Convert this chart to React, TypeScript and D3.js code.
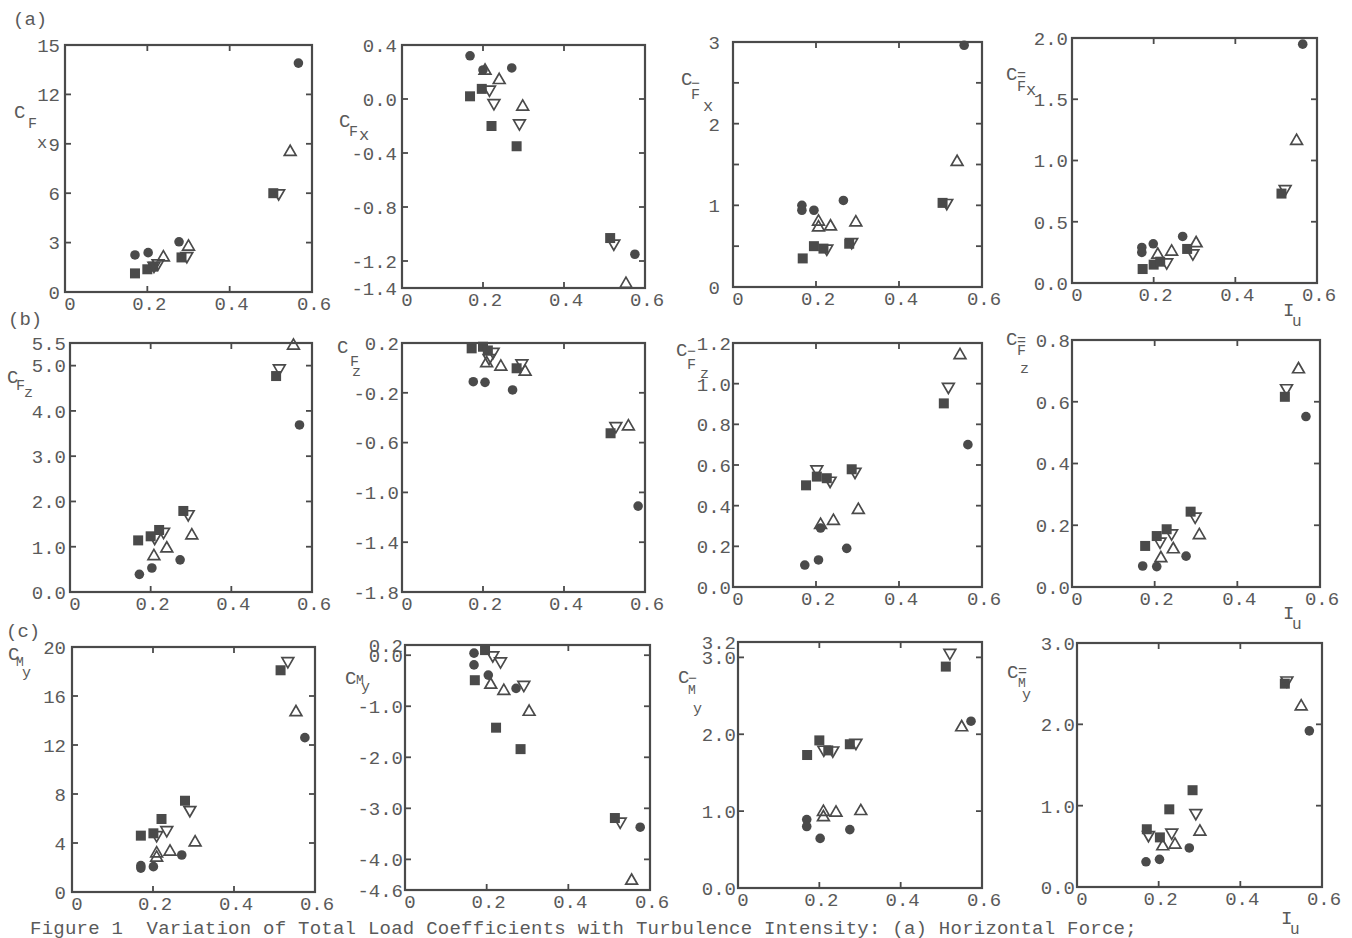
import React from 'react';
import * as d3 from 'd3';

type Pt = [string, number, number];
// series codes: c = filled circle, u = open triangle up, s = filled square, d = open triangle down

const ptsA1: Pt[] = [
  ['c', 0.170, 2.25], ['c', 0.202, 2.39], ['c', 0.277, 3.05], ['c', 0.567, 13.9],
  ['s', 0.170, 1.13], ['s', 0.200, 1.38], ['s', 0.214, 1.54], ['s', 0.283, 2.1], ['s', 0.506, 6.0],
  ['u', 0.239, 2.1], ['u', 0.300, 2.75], ['u', 0.547, 8.5],
  ['d', 0.216, 1.6], ['d', 0.226, 1.75], ['d', 0.296, 2.19], ['d', 0.519, 6.0],
];
const ptsA2: Pt[] = [
  ['c', 0.168, 0.32], ['c', 0.200, 0.215], ['c', 0.271, 0.23], ['c', 0.575, -1.15],
  ['s', 0.168, 0.02], ['s', 0.197, 0.075], ['s', 0.221, -0.2], ['s', 0.283, -0.35], ['s', 0.514, -1.03],
  ['u', 0.205, 0.21], ['u', 0.240, 0.14], ['u', 0.298, -0.057], ['u', 0.553, -1.37],
  ['d', 0.216, 0.07], ['d', 0.227, -0.03], ['d', 0.290, -0.18], ['d', 0.523, -1.07],
];
const ptsA3: Pt[] = [
  ['c', 0.166, 1.0], ['c', 0.166, 0.94], ['c', 0.195, 0.94], ['c', 0.266, 1.06], ['c', 0.557, 2.96],
  ['s', 0.168, 0.35], ['s', 0.195, 0.50], ['s', 0.218, 0.47], ['s', 0.280, 0.53], ['s', 0.505, 1.03],
  ['u', 0.206, 0.80], ['u', 0.206, 0.73], ['u', 0.235, 0.74], ['u', 0.296, 0.79], ['u', 0.540, 1.53],
  ['d', 0.226, 0.47], ['d', 0.286, 0.55], ['d', 0.515, 1.03],
];
const ptsA4: Pt[] = [
  ['c', 0.171, 0.29], ['c', 0.171, 0.25], ['c', 0.199, 0.32], ['c', 0.271, 0.38], ['c', 0.565, 1.95],
  ['s', 0.173, 0.114], ['s', 0.200, 0.15], ['s', 0.216, 0.174], ['s', 0.282, 0.278], ['s', 0.513, 0.73],
  ['u', 0.210, 0.23], ['u', 0.244, 0.256], ['u', 0.304, 0.324], ['u', 0.550, 1.16],
  ['d', 0.232, 0.169], ['d', 0.296, 0.242], ['d', 0.522, 0.767],
];
const ptsB1: Pt[] = [
  ['c', 0.172, 0.39], ['c', 0.203, 0.53], ['c', 0.273, 0.71], ['c', 0.569, 3.69],
  ['s', 0.169, 1.14], ['s', 0.200, 1.23], ['s', 0.221, 1.37], ['s', 0.281, 1.79], ['s', 0.511, 4.77],
  ['u', 0.208, 0.79], ['u', 0.240, 0.96], ['u', 0.302, 1.25], ['u', 0.554, 5.44],
  ['d', 0.210, 1.2], ['d', 0.232, 1.33], ['d', 0.293, 1.72], ['d', 0.519, 4.94],
];
const ptsB2: Pt[] = [
  ['c', 0.176, -0.111], ['c', 0.205, -0.116], ['c', 0.273, -0.177], ['c', 0.583, -1.11],
  ['s', 0.172, 0.157], ['s', 0.200, 0.17], ['s', 0.212, 0.14], ['s', 0.283, -0.003], ['s', 0.515, -0.525],
  ['u', 0.209, 0.037], ['u', 0.244, 0.01], ['u', 0.304, -0.03], ['u', 0.559, -0.47],
  ['d', 0.215, 0.08], ['d', 0.225, 0.13], ['d', 0.296, 0.037], ['d', 0.528, -0.467],
];
const ptsB3: Pt[] = [
  ['c', 0.173, 0.108], ['c', 0.206, 0.133], ['c', 0.274, 0.19], ['c', 0.566, 0.70], ['c', 0.211, 0.29],
  ['s', 0.176, 0.50], ['s', 0.202, 0.543], ['s', 0.226, 0.535], ['s', 0.286, 0.579], ['s', 0.508, 0.903],
  ['u', 0.211, 0.305], ['u', 0.242, 0.325], ['u', 0.302, 0.379], ['u', 0.547, 1.14],
  ['d', 0.202, 0.579], ['d', 0.234, 0.523], ['d', 0.294, 0.567], ['d', 0.519, 0.985],
];
const ptsB4: Pt[] = [
  ['c', 0.171, 0.068], ['c', 0.205, 0.066], ['c', 0.276, 0.10], ['c', 0.566, 0.552],
  ['s', 0.177, 0.133], ['s', 0.205, 0.165], ['s', 0.229, 0.187], ['s', 0.287, 0.244], ['s', 0.515, 0.616],
  ['u', 0.215, 0.093], ['u', 0.245, 0.122], ['u', 0.308, 0.168], ['u', 0.548, 0.705],
  ['d', 0.213, 0.147], ['d', 0.241, 0.174], ['d', 0.298, 0.228], ['d', 0.519, 0.644],
];
const ptsC1: Pt[] = [
  ['c', 0.170, 2.15], ['c', 0.170, 1.95], ['c', 0.201, 2.07], ['c', 0.271, 3.02], ['c', 0.575, 12.6],
  ['s', 0.170, 4.6], ['s', 0.201, 4.79], ['s', 0.221, 5.96], ['s', 0.279, 7.45], ['s', 0.515, 18.1],
  ['u', 0.209, 3.15], ['u', 0.209, 2.8], ['u', 0.242, 3.29], ['u', 0.304, 4.05], ['u', 0.553, 14.67],
  ['d', 0.209, 4.65], ['d', 0.234, 5.06], ['d', 0.291, 6.7], ['d', 0.533, 18.85],
];
const ptsC2: Pt[] = [
  ['c', 0.169, 0.04], ['c', 0.169, -0.19], ['c', 0.204, -0.39], ['c', 0.272, -0.65], ['c', 0.576, -3.37],
  ['s', 0.171, -0.49], ['s', 0.196, 0.1], ['s', 0.223, -1.42], ['s', 0.283, -1.84], ['s', 0.514, -3.19],
  ['u', 0.210, -0.58], ['u', 0.242, -0.70], ['u', 0.304, -1.11], ['u', 0.555, -4.42],
  ['d', 0.215, 0.0], ['d', 0.234, -0.12], ['d', 0.291, -0.58], ['d', 0.527, -3.26],
];
const ptsC3: Pt[] = [
  ['c', 0.169, 0.89], ['c', 0.169, 0.80], ['c', 0.202, 0.645], ['c', 0.275, 0.76], ['c', 0.573, 2.17],
  ['s', 0.170, 1.73], ['s', 0.200, 1.92], ['s', 0.222, 1.79], ['s', 0.275, 1.87], ['s', 0.511, 2.88],
  ['u', 0.210, 0.99], ['u', 0.210, 0.92], ['u', 0.241, 0.98], ['u', 0.302, 1.0], ['u', 0.550, 2.09],
  ['d', 0.211, 1.8], ['d', 0.233, 1.79], ['d', 0.290, 1.89], ['d', 0.521, 3.06],
];
const ptsC4: Pt[] = [
  ['c', 0.169, 0.31], ['c', 0.202, 0.34], ['c', 0.275, 0.48], ['c', 0.569, 1.92],
  ['s', 0.171, 0.71], ['s', 0.203, 0.61], ['s', 0.226, 0.955], ['s', 0.283, 1.19], ['s', 0.509, 2.5],
  ['u', 0.210, 0.50], ['u', 0.240, 0.52], ['u', 0.301, 0.68], ['u', 0.549, 2.22],
  ['d', 0.175, 0.64], ['d', 0.232, 0.67], ['d', 0.291, 0.91], ['d', 0.514, 2.54],
];

// x axis (shared)
const xTicks = [0.2, 0.4];
const xLabels: [number, string][] = [[0, '0'], [0.2, '0.2'], [0.4, '0.4'], [0.6, '0.6']];

// y axes
const yTicksA1 = [3, 6, 9, 12];
const yLabelsA1: [number, string][] = [[0, '0'], [3, '3'], [6, '6'], [9, '9'], [12, '12'], [15, '15']];
const yTicksA2 = [0.0, -0.4, -0.8, -1.2];
const yLabelsA2: [number, string][] = [[0.4, '0.4'], [0.0, '0.0'], [-0.4, '-0.4'], [-0.8, '-0.8'], [-1.2, '-1.2'], [-1.4, '-1.4']];
const yTicksA3 = [0.5, 1, 1.5, 2, 2.5];
const yLabelsA3: [number, string][] = [[0, '0'], [1, '1'], [2, '2'], [3, '3']];
const yTicksA4 = [0.5, 1.0, 1.5];
const yLabelsA4: [number, string][] = [[0, '0.0'], [0.5, '0.5'], [1.0, '1.0'], [1.5, '1.5'], [2.0, '2.0']];
const yTicksB1 = [1, 2, 3, 4, 5];
const yLabelsB1: [number, string][] = [[0, '0.0'], [1, '1.0'], [2, '2.0'], [3, '3.0'], [4, '4.0'], [5, '5.0'], [5.5, '5.5']];
const yTicksB2 = [-0.2, -0.6, -1.0, -1.4];
const yLabelsB2: [number, string][] = [[0.2, '0.2'], [-0.2, '-0.2'], [-0.6, '-0.6'], [-1.0, '-1.0'], [-1.4, '-1.4'], [-1.8, '-1.8']];
const yTicksB3 = [0.2, 0.4, 0.6, 0.8, 1.0];
const yLabelsB3: [number, string][] = [[0, '0.0'], [0.2, '0.2'], [0.4, '0.4'], [0.6, '0.6'], [0.8, '0.8'], [1.0, '1.0'], [1.2, '1.2']];
const yTicksB4 = [0.2, 0.4, 0.6];
const yLabelsB4: [number, string][] = [[0, '0.0'], [0.2, '0.2'], [0.4, '0.4'], [0.6, '0.6'], [0.8, '0.8']];
const yTicksC1 = [4, 8, 12, 16];
const yLabelsC1: [number, string][] = [[0, '0'], [4, '4'], [8, '8'], [12, '12'], [16, '16'], [20, '20']];
const yTicksC2 = [0, -1, -2, -3, -4];
const yLabelsC2: [number, string][] = [[0.2, '0.2'], [0, '0.0'], [-1, '-1.0'], [-2, '-2.0'], [-3, '-3.0'], [-4, '-4.0'], [-4.6, '-4.6']];
const yTicksC3 = [1, 2, 3];
const yLabelsC3: [number, string][] = [[0, '0.0'], [1, '1.0'], [2, '2.0'], [3, '3.0'], [3.2, '3.2']];
const yTicksC4 = [1, 2];
const yLabelsC4: [number, string][] = [[0, '0.0'], [1, '1.0'], [2, '2.0'], [3, '3.0']];

const rowLabels: [string, number, number][] = [['(a)', 13, 25], ['(b)', 8, 325], ['(c)', 6, 637]];
const caption = 'Figure 1\u00a0 Variation of Total Load Coefficients with Turbulence Intensity: (a) Horizontal Force;';

// axis title pieces: [text, x, y, fontSize]
type Piece = [string, number, number, number];
const titleA1: Piece[] = [['C', 14, 118, 19], ['F', 28, 128, 15], ['x', 37, 148, 17]];
const titleA2: Piece[] = [['C', 339, 127, 19], ['F', 349, 136, 15], ['x', 359, 140, 17]];
const titleA3: Piece[] = [['C', 681, 85, 19], ['\u2212', 691, 88, 15], ['F', 691, 99, 15], ['x', 703, 111, 17]];
const titleA4: Piece[] = [['C', 1006, 80, 19], ['=', 1017, 80, 15], ['F', 1017, 91, 15], ['x', 1026, 95, 17]];
const titleB1: Piece[] = [['C', 7, 383, 19], ['F', 16, 390, 15], ['z', 24, 397, 15]];
const titleB2: Piece[] = [['C', 337, 353, 19], ['F', 350, 366, 15], ['z', 352, 376, 15]];
const titleB3: Piece[] = [['C', 676, 356, 19], ['\u2212', 687, 356, 15], ['F', 687, 369, 15], ['z', 700, 378, 15]];
const titleB4: Piece[] = [['C', 1006, 345, 19], ['=', 1017, 345, 15], ['F', 1017, 355, 15], ['z', 1020, 373, 15]];
const titleC1: Piece[] = [['C', 8, 660, 19], ['M', 16, 666, 13], ['y', 22, 677, 15]];
const titleC2: Piece[] = [['C', 345, 684, 19], ['M', 356, 684, 13], ['y', 361, 691, 15]];
const titleC3: Piece[] = [['C', 678, 683, 19], ['\u2212', 688, 683, 15], ['M', 688, 694, 13], ['y', 693, 713, 15]];
const titleC4: Piece[] = [['C', 1007, 678, 19], ['=', 1018, 676, 15], ['M', 1018, 687, 13], ['y', 1022, 699, 15]];
const iuLabels: [number, number][] = [[1283, 316], [1283, 619], [1281, 924]];

const INK = '#4a4a4a';
const TXT = '#5a5a5a';
const FONT = '"Liberation Mono", "DejaVu Sans Mono", monospace';

interface PanelCfg {
  l: number; r: number; t: number; b: number;
  yd: [number, number];
  pts: Pt[];
  yTicks: number[];
  yLabels: [number, string][];
  gap: number;
  title: Piece[];
}

const panels: PanelCfg[] = [
  { l: 65, r: 312, t: 45, b: 292, yd: [0, 15], pts: ptsA1, yTicks: yTicksA1, yLabels: yLabelsA1, gap: 5, title: titleA1 },
  { l: 402, r: 645, t: 45, b: 288, yd: [-1.4, 0.4], pts: ptsA2, yTicks: yTicksA2, yLabels: yLabelsA2, gap: 5, title: titleA2 },
  { l: 733, r: 982, t: 42, b: 287, yd: [0, 3], pts: ptsA3, yTicks: yTicksA3, yLabels: yLabelsA3, gap: 13, title: titleA3 },
  { l: 1072, r: 1317, t: 38, b: 283, yd: [0, 2], pts: ptsA4, yTicks: yTicksA4, yLabels: yLabelsA4, gap: 4, title: titleA4 },
  { l: 70, r: 312, t: 343, b: 592, yd: [0, 5.5], pts: ptsB1, yTicks: yTicksB1, yLabels: yLabelsB1, gap: 4, title: titleB1 },
  { l: 402, r: 645, t: 343, b: 592, yd: [-1.8, 0.2], pts: ptsB2, yTicks: yTicksB2, yLabels: yLabelsB2, gap: 3, title: titleB2 },
  { l: 733, r: 982, t: 343, b: 587, yd: [0, 1.2], pts: ptsB3, yTicks: yTicksB3, yLabels: yLabelsB3, gap: 2, title: titleB3 },
  { l: 1072, r: 1320, t: 340, b: 587, yd: [0, 0.8], pts: ptsB4, yTicks: yTicksB4, yLabels: yLabelsB4, gap: 2, title: titleB4 },
  { l: 72, r: 315, t: 647, b: 892, yd: [0, 20], pts: ptsC1, yTicks: yTicksC1, yLabels: yLabelsC1, gap: 6, title: titleC1 },
  { l: 405, r: 650, t: 645, b: 890, yd: [-4.6, 0.2], pts: ptsC2, yTicks: yTicksC2, yLabels: yLabelsC2, gap: 2, title: titleC2 },
  { l: 738, r: 982, t: 642, b: 888, yd: [0, 3.2], pts: ptsC3, yTicks: yTicksC3, yLabels: yLabelsC3, gap: 2, title: titleC3 },
  { l: 1077, r: 1322, t: 643, b: 887, yd: [0, 3], pts: ptsC4, yTicks: yTicksC4, yLabels: yLabelsC4, gap: 2, title: titleC4 },
];

const triUp = d3.symbol().type(d3.symbolTriangle).size(60)() as string;
const order: Record<string, number> = { c: 0, s: 1, u: 2, d: 3 };

function Marker({ s, cx, cy }: { s: string; cx: number; cy: number }) {
  if (s === 'c') return <circle cx={cx} cy={cy} r={4.8} fill={INK} />;
  if (s === 's') return <rect x={cx - 5} y={cy - 5} width={10} height={10} fill={INK} />;
  const rot = s === 'd' ? 180 : 0;
  return (
    <path d={triUp} transform={`translate(${cx},${cy}) rotate(${rot})`} fill="none" stroke={INK} strokeWidth={1.7} strokeLinejoin="miter" />
  );
}

function Panel({ p }: { p: PanelCfg }) {
  const x = d3.scaleLinear().domain([0, 0.6]).range([p.l, p.r]);
  const y = d3.scaleLinear().domain(p.yd).range([p.b, p.t]);
  const tl = 6;
  const pts = [...p.pts].sort((a, b) => order[a[0]] - order[b[0]]);
  return (
    <g>
      <rect x={p.l} y={p.t} width={p.r - p.l} height={p.b - p.t} fill="none" stroke={INK} strokeWidth={2.2} />
      {p.yTicks.map((v, i) => (
        <g key={'yt' + i} stroke={INK} strokeWidth={1.8}>
          <line x1={p.l} x2={p.l + tl} y1={y(v)} y2={y(v)} />
          <line x1={p.r} x2={p.r - tl} y1={y(v)} y2={y(v)} />
        </g>
      ))}
      {xTicks.map((v, i) => (
        <g key={'xt' + i} stroke={INK} strokeWidth={1.8}>
          <line x1={x(v)} x2={x(v)} y1={p.t} y2={p.t + tl} />
          <line x1={x(v)} x2={x(v)} y1={p.b} y2={p.b - tl} />
        </g>
      ))}
      {p.yLabels.map(([v, t], i) => (
        <text key={'yl' + i} x={p.l - p.gap} y={y(v)} dy="0.36em" textAnchor="end" fontSize={19} fill={TXT} fontFamily={FONT}>{t}</text>
      ))}
      {xLabels.map(([v, t], i) => (
        <text key={'xl' + i} x={v === 0 ? x(v) + 5 : x(v) + 2} y={p.b + 18} textAnchor="middle" fontSize={19} fill={TXT} fontFamily={FONT}>{t}</text>
      ))}
      {p.title.map(([t, tx, ty, fs], i) => (
        <text key={'ti' + i} x={tx} y={ty} fontSize={fs} fill={TXT} fontFamily={FONT}>{t}</text>
      ))}
      {pts.map((d, i) => (
        <Marker key={'m' + i} s={d[0]} cx={x(d[1])} cy={y(d[2])} />
      ))}
    </g>
  );
}

export default function App() {
  return (
    <svg width={1352} height={938} style={{ position: 'absolute', left: 0, top: 0, background: '#fff' }} xmlns="http://www.w3.org/2000/svg">
      <rect x={0} y={0} width={1352} height={938} fill="#fff" />
      {panels.map((p, i) => <Panel key={i} p={p} />)}
      {rowLabels.map(([t, lx, ly], i) => (
        <text key={'rl' + i} x={lx} y={ly} fontSize={19} fill={TXT} fontFamily={FONT}>{t}</text>
      ))}
      {iuLabels.map(([lx, ly], i) => (
        <g key={'iu' + i}>
          <text x={lx} y={ly} fontSize={19} fill={TXT} fontFamily={FONT}>I</text>
          <text x={lx + 9} y={ly + 10} fontSize={16} fill={TXT} fontFamily={FONT}>u</text>
        </g>
      ))}
      <text x={30} y={934} fontSize={19} letterSpacing={0.25} fill={TXT} fontFamily={FONT}>{caption}</text>
    </svg>
  );
}
